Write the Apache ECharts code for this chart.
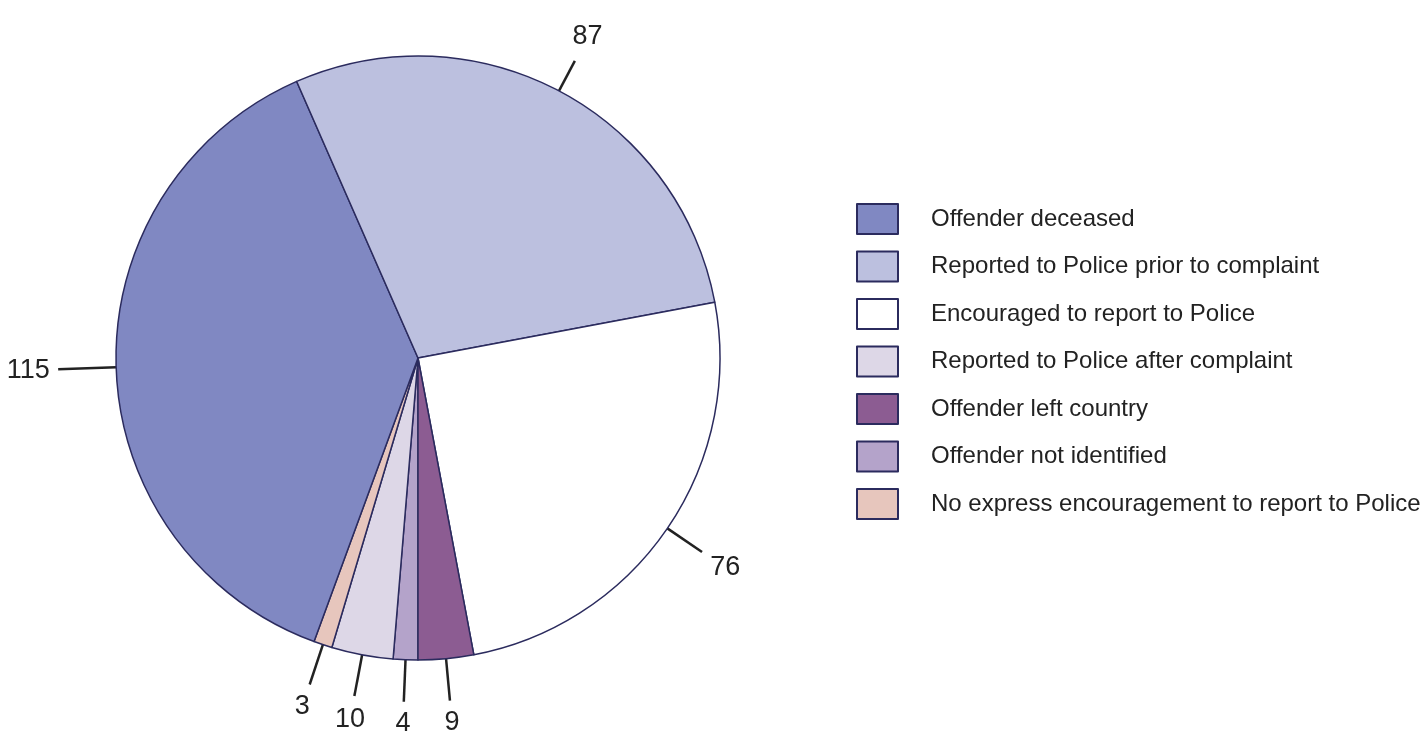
<!DOCTYPE html>
<html>
<head>
<meta charset="utf-8">
<script src="https://cdn.jsdelivr.net/npm/echarts@6/dist/echarts.min.js"></script>
<style>
html,body{margin:0;padding:0;background:#fff;}
#chart{width:1423px;height:736px;}
</style>
</head>
<body>
<div id="chart"></div>
<script>
// Categories in legend order
const categories = [
  'Offender deceased',
  'Reported to Police prior to complaint',
  'Encouraged to report to Police',
  'Reported to Police after complaint',
  'Offender left country',
  'Offender not identified',
  'No express encouragement to report to Police'
];
const values = [115, 87, 76, 10, 9, 4, 3];
const colors = ['#8088c2', '#bcc0df', '#ffffff', '#ddd7e7', '#8c5c92', '#b4a3ca', '#e7c6bd'];
// Order in which slices are drawn clockwise starting from the bottom
const sliceOrder = [5, 3, 6, 0, 1, 2, 4];

const FONT = '"Liberation Sans", Arial, sans-serif';
const chart = echarts.init(document.getElementById('chart'));

const pieData = sliceOrder.map(i => {
  const item = {
    name: categories[i],
    value: values[i],
    itemStyle: { color: colors[i] }
  };
  if (values[i] === 115) item.labelLine = { length: 58 };
  if (values[i] === 87) item.labelLine = { length: 34 };
  return item;
});

chart.setOption({
  backgroundColor: '#ffffff',
  animation: false,
  legend: {
    orient: 'vertical',
    left: 856,
    top: 203,
    padding: 0,
    itemWidth: 41,
    itemHeight: 30,
    itemGap: 15.5,
    icon: 'rect',
    data: categories,
    selectedMode: false,
    itemStyle: { borderColor: '#2b2b5e', borderWidth: 2 },
    textStyle: {
      fontFamily: FONT,
      fontSize: 24,
      color: '#222',
      padding: [0, 0, 0, 28]
    }
  },
  series: [{
    type: 'pie',
    center: [418, 358],
    radius: 302,
    startAngle: -90,
    clockwise: true,
    avoidLabelOverlap: false,
    data: pieData,
    itemStyle: { borderColor: '#2b2b5e', borderWidth: 1.5 },
    emphasis: { disabled: true },
    label: {
      show: true,
      formatter: '{c}',
      fontFamily: FONT,
      fontSize: 27,
      color: '#222'
    },
    labelLine: {
      show: true,
      length: 42,
      length2: 0,
      smooth: false,
      lineStyle: { color: '#222', width: 2.5 }
    },
    labelLayout: function (params) {
      const pts = params.labelLinePoints;
      if (!pts) return {};
      const p0 = pts[0], p1 = pts[1];
      let dx = p1[0] - p0[0], dy = p1[1] - p0[1];
      const len = Math.sqrt(dx * dx + dy * dy) || 1;
      dx /= len; dy /= len;
      const w = params.labelRect.width, h = params.labelRect.height;
      const k = 8 + Math.abs(dx) * w / 2 + Math.abs(dy) * h / 2;
      return {
        x: p1[0] + dx * k,
        y: p1[1] + dy * k,
        align: 'center',
        verticalAlign: 'middle',
        labelLinePoints: [p0, p1]
      };
    }
  }]
});
</script>
</body>
</html>
